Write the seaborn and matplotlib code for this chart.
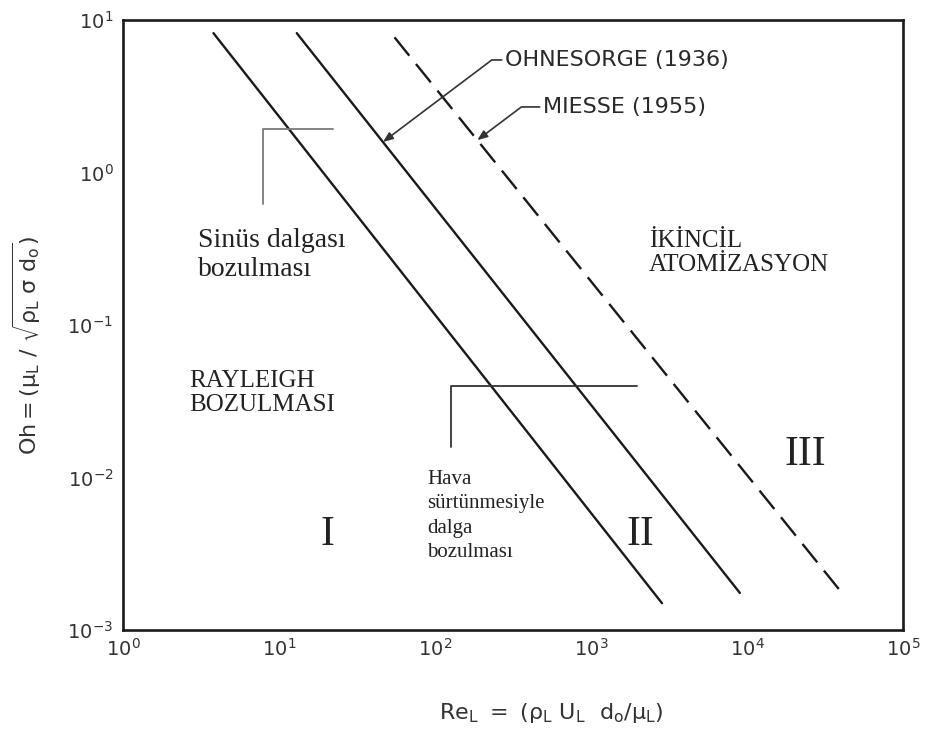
import numpy as np
import matplotlib
matplotlib.use('Agg')
import matplotlib.pyplot as plt
import seaborn as sns

# boundary lines (end points)
re_rayleigh = [3.8, 2850]
oh_rayleigh = [8.2, 1.5e-3]
re_ohnesorge = [13, 9000]
oh_ohnesorge = [8.2, 1.75e-3]
re_miesse = [55, 40600]
oh_miesse = [7.7, 1.75e-3]

# bracket pointers next to the region notes
sinus_bracket_x = [7.9, 7.9, 22.2]
sinus_bracket_y = [0.62, 1.93, 1.93]
hava_bracket_x = [127, 127, 1970]
hava_bracket_y = [0.0158, 0.0398, 0.0398]

xticks = [1, 10, 100, 1e3, 1e4, 1e5]
yticks = [1e-3, 1e-2, 1e-1, 1, 10]

sns.set_theme(style='white')
plt.rcParams['font.family'] = ['DejaVu Sans']
plt.rcParams['mathtext.default'] = 'regular'

fig = plt.figure(figsize=(9.29, 7.29), dpi=100)
ax = fig.add_axes([123 / 929, 1 - 630 / 729, 780 / 929, 610 / 729])
ax.set_xscale('log')
ax.set_yscale('log')

ink = '#1a1a1a'
sns.lineplot(x=re_rayleigh, y=oh_rayleigh, color=ink, lw=1.7, ax=ax)
sns.lineplot(x=re_ohnesorge, y=oh_ohnesorge, color=ink, lw=1.7, ax=ax)
sns.lineplot(x=re_miesse, y=oh_miesse, color=ink, lw=1.7, ax=ax,
             dashes=False).lines[-1].set_dashes((10, 4.5))
sns.lineplot(x=sinus_bracket_x, y=sinus_bracket_y, sort=False, estimator=None,
             color='#7a7a7a', lw=1.3, ax=ax)
sns.lineplot(x=hava_bracket_x, y=hava_bracket_y, sort=False, estimator=None,
             color='#333333', lw=1.3, ax=ax)

ax.set_xlim(1, 1e5)
ax.set_ylim(1e-3, 10)
ax.set_xticks(xticks)
ax.set_yticks(yticks)
ax.minorticks_off()
ax.tick_params(axis='both', direction='in', length=10, width=1.5,
               colors=ink, labelcolor='#333333', labelsize=14)
ax.tick_params(axis='x', pad=6)
ax.tick_params(axis='y', pad=7)
for s in ax.spines.values():
    s.set_visible(True)
    s.set_color(ink)
    s.set_linewidth(1.9)

ax.set_xlabel(r'$Re_L\ =\ (\rho_L\ U_L\ \ d_o/\mu_L)$', fontsize=16, color='#333333')
ax.set_ylabel(r'$Oh = (\mu_L\ /\ \sqrt{\rho_L\ \sigma\ d_o})$', fontsize=16, color='#333333')
ax.xaxis.set_label_coords(0.549, -0.136)
ax.xaxis.label.set_va('center')
ax.yaxis.set_label_coords(-0.123, 0.467)
ax.yaxis.label.set_va('center')

serif = ['Liberation Serif', 'DejaVu Serif']
txt = '#222222'
ax.text(3.03, 0.288, 'Sinüs dalgası\nbozulması', family=serif, fontsize=20,
        ha='left', va='center', linespacing=1.25, color=txt)
ax.text(2.65, 0.0358, 'RAYLEIGH\nBOZULMASI', family=serif, fontsize=18,
        ha='left', va='center', linespacing=1.15, color=txt)
ax.text(2354, 0.296, 'İKİNCİL\nATOMİZASYON', family=serif, fontsize=18,
        ha='left', va='center', linespacing=1.15, color=txt)
ax.text(88.9, 0.0056, 'Hava\nsürtünmesiyle\ndalga\nbozulması', family=serif,
        fontsize=15, ha='left', va='center', linespacing=1.4, color=txt)
for label, x, y in [('I', 20.3, 0.0042), ('II', 2061, 0.0042), ('III', 23500, 0.01406)]:
    ax.text(x, y, label, family=serif, fontsize=30, ha='center', va='center', color=txt)

# leader arrows to the two correlation lines
tip_oh_y = 1.585
tip_oh_x = 10 ** np.interp(np.log10(tip_oh_y), np.log10(oh_ohnesorge[::-1]), np.log10(re_ohnesorge[::-1]))
tip_mi_y = 1.63
tip_mi_x = 10 ** np.interp(np.log10(tip_mi_y), np.log10(oh_miesse[::-1]), np.log10(re_miesse[::-1]))
arrow = dict(arrowstyle='-|>,head_length=0.5,head_width=0.2', color='#333333', lw=1.2,
             connectionstyle='angle,angleA=0,angleB=37,rad=0', shrinkA=0, shrinkB=0,
             relpos=(0, 0.5), mutation_scale=12)
ax.annotate('OHNESORGE (1936)', xy=(tip_oh_x, tip_oh_y), xytext=(281, 5.47),
            fontsize=16, color='#2a2a2a', ha='left', va='center', arrowprops=arrow)
ax.annotate('MIESSE (1955)', xy=(tip_mi_x, tip_mi_y), xytext=(492, 2.69),
            fontsize=16, color='#2a2a2a', ha='left', va='center', arrowprops=arrow)

fig.savefig('out.png', dpi=100, facecolor='white')
